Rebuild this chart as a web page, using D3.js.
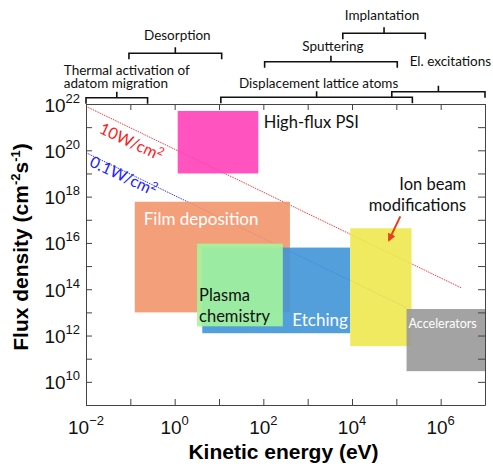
<!DOCTYPE html>
<html lang="en">
<head>
<meta charset="utf-8">
<title>Flux density vs kinetic energy</title>
<script src="https://cdn.jsdelivr.net/npm/d3@7"></script>
<style>
body { margin: 0; background: #fff; }
</style>
</head>
<body>
<script>
// process windows: energy range (eV) and flux range (cm-2 s-1), drawn in this order
var boxNames = ["Film deposition", "Etching", "Plasma chemistry", "Ion beam modifications", "Accelerators", "High-flux PSI"];
var boxEmin = [0.126, 4.2, 3.2, 9.1e3, 1.7e5, 1.17];
var boxEmax = [398, 9.1e3, 275, 2.2e5, 1e7, 77];
var boxFmin = [1e13, 1.26e12, 2.5e12, 3.5e11, 2.9e10, 1e19];
var boxFmax = [6.0e17, 6.3e15, 9.3e15, 4.3e16, 1.4e13, 5e21];

// constant power lines
var lineNames = ["10W/cm", "0.1W/cm"];
var lineE = [[0.01, 2.9e6], [0.01, 1.7e5]];
var lineF = [[7.9e21, 1.15e14], [7.9e19, 1.6e13]];

// energy ranges of the processes along the top
var bracketNames = [["Thermal activation of", "adatom migration"], ["Desorption"], ["Displacement lattice atoms"], ["Sputtering"], ["Implantation"], ["El. excitations"]];
var bracketEmin = [0.01, 0.093, 11, 107, 6.2e3, 7.9e4];
var bracketEmax = [0.245, 11.5, 2.3e5, 1.05e5, 4.5e5, 1e7];

// arrow to the ion beam box
var arrowE = [1.23e5, 6.8e4];
var arrowF = [1.4e17, 1.3e16];

// axis ticks (decade exponents)
var xTickExp = [-2, -1, 0, 1, 2, 3, 4, 5, 6, 7];
var xLabelExp = [-2, 0, 2, 4, 6];
var yTickExp = [9, 10, 11, 12, 13, 14, 15, 16, 17, 18, 19, 20, 21, 22];
var yLabelExp = [10, 12, 14, 16, 18, 20, 22];

// ---- styles / layout ----
var boxColors = ["#f2956b", "#3f95d8", "#a3f59c", "#ede84f", "#999999", "#ff40b9"];
var lineColors = ["#ff2020", "#2323ff"];
// label layout per box: offset from box top-left
var boxLabelStyle = [
	{dx: 9, dy: 23, fill: "#fff", size: 17},
	{dx: 90, dy: 78, fill: "#fff", size: 17},
	{dx: 2, dy: 57, fill: "#111", size: 16.5},
	{dx: 116, dy: -38, fill: "#111", size: 16.5, anchor: "end"},
	{dx: 2, dy: 19, fill: "#fff", size: 12.5},
	{dx: 86, dy: 17, fill: "#111", size: 16.5}
];
// bracket layout: level (px), label dx from centre, label dy from level
var bracketStyle = [
	{level: 97.7, dx: -53, dy: -22.5, anchor: "start"},
	{level: 53.3, dx: 2, dy: -13},
	{level: 97.3, dx: 2, dy: -9.3},
	{level: 61.7, dx: 2, dy: -10.7},
	{level: 33.3, dx: -2, dy: -13.8},
	{level: 91.7, dx: 12, dy: -25.7}
];
var lineLabelStyle = [{x: 129, y: 147, angle: 25}, {x: 121, y: 181, angle: 25}];

var w = 493, h = 466;
var m = {left: 86, right: 485, top: 104, bottom: 405};

var x = d3.scaleLog().domain([1e-2, 1e7]).range([m.left, m.right]);
var y = d3.scaleLog().domain([1e9, 1e22]).range([m.bottom, m.top]);

var svg = d3.select("body").append("svg")
	.attr("width", w)
	.attr("height", h)
	.style("font-family", "Lato, 'Open Sans', sans-serif");

// power lines (behind the boxes)
var lineGen = d3.line()
	.x(function(d) { return x(d[0]); })
	.y(function(d) { return y(d[1]); });
lineNames.forEach(function(name, i) {
	svg.append("path")
		.datum(d3.zip(lineE[i], lineF[i]))
		.attr("d", lineGen)
		.attr("fill", "none")
		.attr("stroke", lineColors[i])
		.attr("stroke-width", 0.9)
		.attr("stroke-dasharray", "1.5,1");
	var t = svg.append("text")
		.attr("transform", "translate(" + lineLabelStyle[i].x + "," + lineLabelStyle[i].y + ") rotate(" + lineLabelStyle[i].angle + ")")
		.attr("text-anchor", "middle")
		.attr("font-size", 16)
		.attr("fill", lineColors[i]);
	t.append("tspan").text(name);
	t.append("tspan").attr("dy", -6).attr("font-size", 11).text("2");
});

// boxes
var boxes = svg.append("g");
boxNames.forEach(function(name, i) {
	boxes.append("rect")
		.attr("x", x(boxEmin[i]))
		.attr("y", y(boxFmax[i]))
		.attr("width", x(boxEmax[i]) - x(boxEmin[i]))
		.attr("height", y(boxFmin[i]) - y(boxFmax[i]))
		.attr("fill", boxColors[i])
		.attr("fill-opacity", 0.9);
});
boxNames.forEach(function(name, i) {
	var st = boxLabelStyle[i];
	var words = name == "Plasma chemistry" ? ["Plasma", "chemistry"] :
		name == "Ion beam modifications" ? ["Ion beam", "modifications"] : [name];
	var t = svg.append("text")
		.attr("x", x(boxEmin[i]) + st.dx)
		.attr("y", y(boxFmax[i]) + st.dy)
		.attr("text-anchor", st.anchor || "start")
		.attr("font-size", st.size)
		.attr("fill", st.fill);
	words.forEach(function(wd, k) {
		t.append("tspan")
			.attr("x", x(boxEmin[i]) + st.dx)
			.attr("dy", k == 0 ? 0 : 21)
			.text(wd);
	});
});

// arrow
svg.append("defs").append("marker")
	.attr("id", "head")
	.attr("viewBox", "0 0 10 10")
	.attr("refX", 8).attr("refY", 5)
	.attr("markerWidth", 4).attr("markerHeight", 4)
	.attr("orient", "auto")
	.append("path").attr("d", "M0,0L10,5L0,10z").attr("fill", "#ea3f1e");
svg.append("line")
	.attr("x1", x(arrowE[0])).attr("y1", y(arrowF[0]))
	.attr("x2", x(arrowE[1])).attr("y2", y(arrowF[1]))
	.attr("stroke", "#ea3f1e")
	.attr("stroke-width", 2)
	.attr("marker-end", "url(#head)");

// axes frame, ticks all inward
var decX = xTickExp.map(function(e) { return Math.pow(10, e); });
var decY = yTickExp.map(function(e) { return Math.pow(10, e); });
var axisCol = "#444";
function styleAxis(g) {
	g.selectAll("path,line").attr("stroke", axisCol);
	g.selectAll("text").remove();
}
svg.append("g").attr("transform", "translate(0," + m.bottom + ")")
	.call(d3.axisBottom(x).tickValues(decX).tickSizeInner(-6).tickSizeOuter(0)).call(styleAxis);
svg.append("g").attr("transform", "translate(0," + m.top + ")")
	.call(d3.axisTop(x).tickValues(decX).tickSizeInner(-6).tickSizeOuter(0)).call(styleAxis);
svg.append("g").attr("transform", "translate(" + m.left + ",0)")
	.call(d3.axisLeft(y).tickValues(decY).tickSizeInner(-6).tickSizeOuter(0)).call(styleAxis);
svg.append("g").attr("transform", "translate(" + m.right + ",0)")
	.call(d3.axisRight(y).tickValues(decY).tickSizeInner(-7).tickSizeOuter(0)).call(styleAxis);

// tick labels 10^n
var tickFont = "'Liberation Sans', Arial, sans-serif";
xLabelExp.forEach(function(e) {
	var t = svg.append("text")
		.attr("x", x(Math.pow(10, e)))
		.attr("y", 434)
		.attr("text-anchor", "middle")
		.attr("font-family", tickFont)
		.attr("font-size", 19)
		.attr("fill", "#111");
	t.append("tspan").text("10");
	t.append("tspan").attr("dy", -9).attr("font-size", 13).text(String(e).replace("-", "\u2212"));
});
yLabelExp.forEach(function(e) {
	var t = svg.append("text")
		.attr("x", 80)
		.attr("y", y(Math.pow(10, e)) + 7.5)
		.attr("text-anchor", "end")
		.attr("font-family", tickFont)
		.attr("font-size", 19)
		.attr("fill", "#111");
	t.append("tspan").text("10");
	t.append("tspan").attr("dy", -9).attr("font-size", 13).text(e);
});

// axis titles
svg.append("text")
	.attr("x", (m.left + m.right) / 2 - 2)
	.attr("y", 459)
	.attr("text-anchor", "middle")
	.attr("font-family", tickFont)
	.attr("font-weight", "bold")
	.attr("font-size", 21)
	.text("Kinetic energy (eV)");
var yt = svg.append("text")
	.attr("transform", "translate(28,247) rotate(-90)")
	.attr("text-anchor", "middle")
	.attr("font-family", tickFont)
	.attr("font-weight", "bold")
	.attr("font-size", 21);
yt.append("tspan").text("Flux density (cm");
yt.append("tspan").attr("dy", -8).attr("font-size", 13).text("-2");
yt.append("tspan").attr("dy", 8).text("s");
yt.append("tspan").attr("dy", -8).attr("font-size", 13).text("-1");
yt.append("tspan").attr("dy", 8).text(")");

// brackets on top
bracketNames.forEach(function(lines, i) {
	var st = bracketStyle[i];
	var x1 = x(bracketEmin[i]), x2 = x(bracketEmax[i]);
	var xc = (x1 + x2) / 2, yb = st.level;
	svg.append("path")
		.attr("d", "M" + x1 + "," + (yb + 6) + "V" + yb + "H" + x2 + "V" + (yb + 6) + "M" + xc + "," + yb + "V" + (yb - 6))
		.attr("fill", "none")
		.attr("stroke", "#111")
		.attr("stroke-width", 1.6);
	var t = svg.append("text")
		.attr("x", xc + st.dx)
		.attr("y", yb + st.dy)
		.attr("text-anchor", st.anchor || "middle")
		.attr("font-size", 13.5)
		.attr("fill", "#111");
	lines.forEach(function(l, k) {
		t.append("tspan").attr("x", xc + st.dx).attr("dy", k == 0 ? 0 : 13).text(l);
	});
});
</script>
</body>
</html>
